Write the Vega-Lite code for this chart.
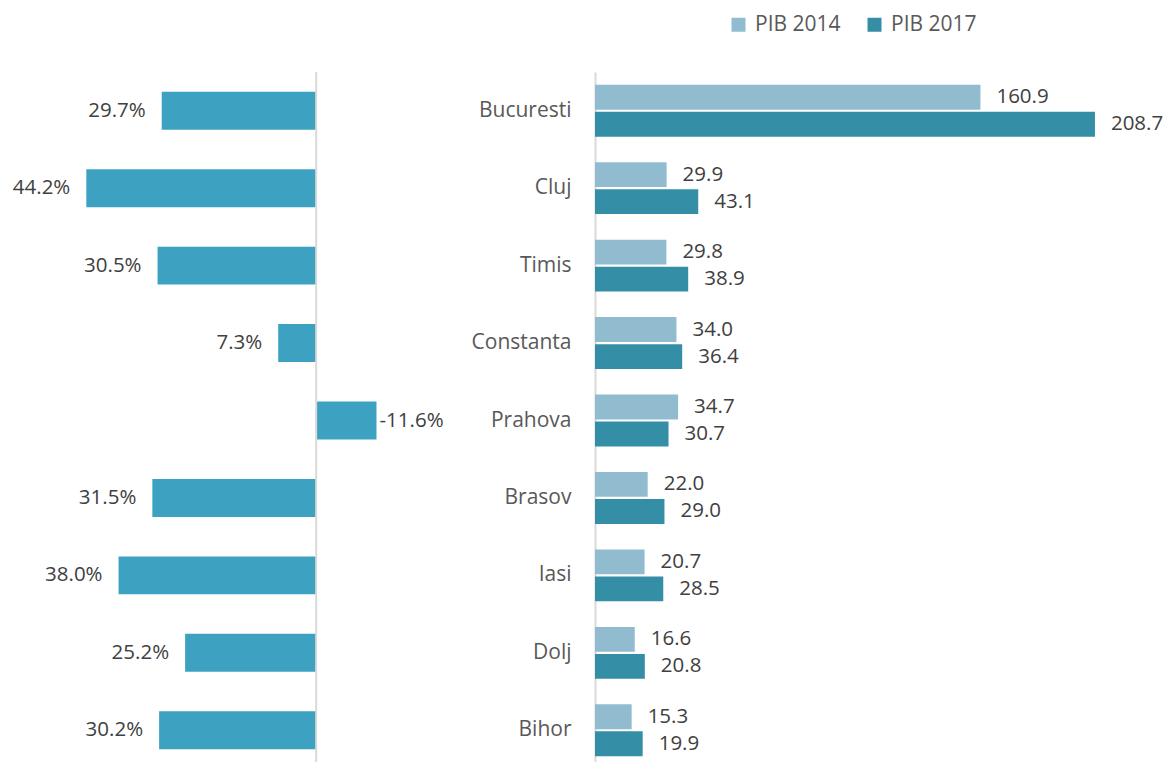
{
  "$schema": "https://vega.github.io/schema/vega-lite/v6.json",
  "padding": {"top": 14, "left": 0, "right": 0, "bottom": 0},
  "bounds": "flush",
  "spacing": 216,
  "config": {"view": {"stroke": null}, "font": "Open Sans"},
  "datasets": {
    "growth": [
      {"county": "Bucuresti", "g": 29.7},
      {"county": "Cluj", "g": 44.2},
      {"county": "Timis", "g": 30.5},
      {"county": "Constanta", "g": 7.3},
      {"county": "Prahova", "g": -11.6},
      {"county": "Brasov", "g": 31.5},
      {"county": "Iasi", "g": 38.0},
      {"county": "Dolj", "g": 25.2},
      {"county": "Bihor", "g": 30.2}
    ],
    "pib": [
      {"county": "Bucuresti", "year": "PIB 2014", "v": 160.9},
      {"county": "Bucuresti", "year": "PIB 2017", "v": 208.7},
      {"county": "Cluj", "year": "PIB 2014", "v": 29.9},
      {"county": "Cluj", "year": "PIB 2017", "v": 43.1},
      {"county": "Timis", "year": "PIB 2014", "v": 29.8},
      {"county": "Timis", "year": "PIB 2017", "v": 38.9},
      {"county": "Constanta", "year": "PIB 2014", "v": 34.0},
      {"county": "Constanta", "year": "PIB 2017", "v": 36.4},
      {"county": "Prahova", "year": "PIB 2014", "v": 34.7},
      {"county": "Prahova", "year": "PIB 2017", "v": 30.7},
      {"county": "Brasov", "year": "PIB 2014", "v": 22.0},
      {"county": "Brasov", "year": "PIB 2017", "v": 29.0},
      {"county": "Iasi", "year": "PIB 2014", "v": 20.7},
      {"county": "Iasi", "year": "PIB 2017", "v": 28.5},
      {"county": "Dolj", "year": "PIB 2014", "v": 16.6},
      {"county": "Dolj", "year": "PIB 2017", "v": 20.8},
      {"county": "Bihor", "year": "PIB 2014", "v": 15.3},
      {"county": "Bihor", "year": "PIB 2017", "v": 19.9}
    ]
  },
  "hconcat": [
    {
      "width": 378.56,
      "height": 697,
      "layer": [
        {
          "data": {"name": "growth"},
          "mark": {"type": "bar", "color": "#3DA2C1"},
          "encoding": {
            "y": {"field": "county", "type": "nominal", "sort": null, "axis": null, "scale": {"paddingInner": 0.51, "paddingOuter": 0.255}},
            "x": {"field": "g", "type": "quantitative", "axis": null, "scale": {"domain": [-12, 60.8], "reverse": true, "nice": false, "zero": false}}
          }
        },
        {
          "data": {"values": [{}]},
          "mark": {"type": "rule", "color": "#D9D9D9", "strokeWidth": 2},
          "encoding": {"x": {"datum": 0, "type": "quantitative"}}
        },
        {
          "data": {"name": "growth"},
          "transform": [
            {"filter": "datum.g > 0"},
            {"calculate": "replace(format(datum.g, '.1f'), '\u2212', '-') + '%'", "as": "label"}
          ],
          "mark": {"type": "text", "align": "right", "baseline": "middle", "dx": -16, "fontSize": 20.5, "color": "#404040"},
          "encoding": {
            "y": {"field": "county", "type": "nominal", "sort": null},
            "x": {"field": "g", "type": "quantitative"},
            "text": {"field": "label"}
          }
        },
        {
          "data": {"name": "growth"},
          "transform": [
            {"filter": "datum.g < 0"},
            {"calculate": "replace(format(datum.g, '.1f'), '\u2212', '-') + '%'", "as": "label"}
          ],
          "mark": {"type": "text", "align": "left", "baseline": "middle", "dx": 3, "fontSize": 20.5, "color": "#404040"},
          "encoding": {
            "y": {"field": "county", "type": "nominal", "sort": null},
            "x": {"field": "g", "type": "quantitative"},
            "text": {"field": "label"}
          }
        }
      ]
    },
    {
      "width": 527,
      "height": 697,
      "data": {"name": "pib"},
      "encoding": {
        "y": {
          "field": "county", "type": "nominal", "sort": null,
          "scale": {"paddingInner": 0.33, "paddingOuter": 0.165},
          "axis": {"title": null, "ticks": false, "labelFontSize": 21, "labelColor": "#595959", "labelFont": "Open Sans", "labelPadding": 24, "domainColor": "#D9D9D9", "domainWidth": 2}
        },
        "yOffset": {"field": "year", "type": "nominal", "scale": {"paddingInner": 0.08}},
        "x": {"field": "v", "type": "quantitative", "axis": null, "scale": {"domain": [0, 220], "nice": false}}
      },
      "layer": [
        {
          "mark": {"type": "bar"},
          "encoding": {
            "color": {
              "field": "year", "type": "nominal",
              "scale": {"domain": ["PIB 2014", "PIB 2017"], "range": ["#91BCCF", "#348EA6"]},
              "legend": {"title": null, "orient": "none", "legendX": 728, "legendY": -58, "direction": "horizontal", "symbolType": "square", "symbolSize": 196, "symbolStrokeWidth": 0, "labelFontSize": 21, "labelColor": "#595959", "labelFont": "Open Sans", "labelOffset": 6, "columnPadding": 23, "padding": 0}
            }
          }
        },
        {
          "mark": {"type": "text", "align": "left", "baseline": "middle", "dx": 16, "fontSize": 20.5, "color": "#404040"},
          "encoding": {"text": {"field": "v", "type": "quantitative", "format": ".1f"}}
        }
      ]
    }
  ]
}
